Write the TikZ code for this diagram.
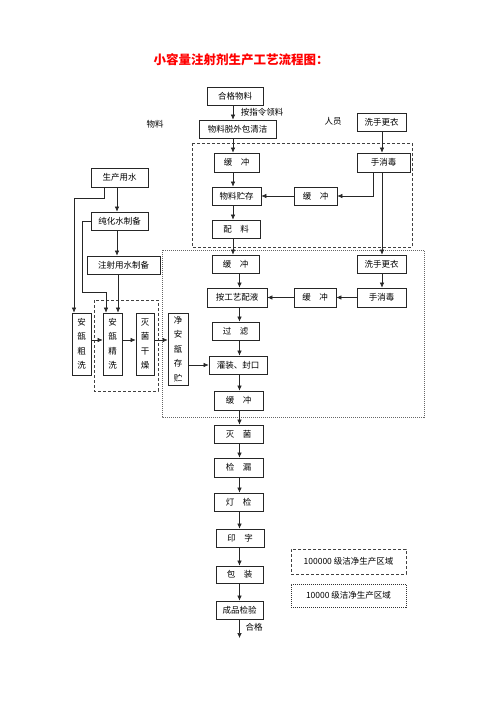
\documentclass[tikz,border=0pt]{standalone}
\usepackage{fontspec}
\setmainfont{Noto Sans CJK SC}
\usetikzlibrary{arrows.meta}
\tikzset{
  box/.style={draw=black!85, line width=0.75pt, inner sep=0pt, font=\fontsize{8.5}{10}\selectfont},
  vbox/.style={box, align=center, font=\fontsize{8.5}{14.5}\selectfont},
  arr/.style={-{Latex[length=5pt,width=4.5pt]}, line width=0.6pt, draw=black!85},
  lbl/.style={inner sep=0pt, font=\fontsize{8.5}{10}\selectfont},
  zoneA/.style={draw=black!75, line width=0.6pt, dash pattern=on 3pt off 2pt},
  zoneB/.style={draw=black!60, line width=0.6pt, dash pattern=on 1pt off 1pt},
}
\newcommand\bx[6]{\node[box,minimum width=#4pt,minimum height=#5pt] (#1) at (#2,#3) {#6};}
\newcommand\gapsp{\hspace{1em}}
\begin{document}
\begin{tikzpicture}[x=1pt,y=-1pt]
\useasboundingbox (0,0) rectangle (496,702);
% zones
\draw[zoneA] (192,143) rectangle (412,247);
\draw[zoneB] (162,250) rectangle (424,417);
\draw[zoneA] (94,300) rectangle (158,391);
% title
\node[text=red, font=\fontsize{12.5}{14}\selectfont\bfseries] (title) at (241,60) {小容量注射剂生产工艺流程图：};
% labels
\node[lbl] (t1) at (262,112) {按指令领料};
\node[lbl] (t2) at (155,124) {物料};
\node[lbl] (t3) at (333,121) {人员};
\node[lbl] (t4) at (254,627) {合格};
% boxes
\bx{hg}{235}{96}{56}{18}{合格物料}
\bx{wb}{237.5}{129}{77}{18}{物料脱外包清洁}
\bx{xs1}{381.5}{122}{49}{18}{洗手更衣}
\bx{hc1}{236.5}{162.5}{45}{19}{缓\gapsp 冲}
\bx{sx1}{383.5}{162.5}{53}{19}{手消毒}
\bx{wc}{236.5}{196}{49}{18}{物料贮存}
\bx{hc2}{315.5}{196}{43}{18}{缓\gapsp 冲}
\bx{pl}{236}{229}{48}{18}{配\gapsp 料}
\bx{scs}{119.5}{177.5}{57}{19}{生产用水}
\bx{chs}{119.5}{221}{57}{18}{纯化水制备}
\bx{zs}{123.5}{265}{73}{18}{注射用水制备}
\bx{hc3}{235.5}{264}{47}{18}{缓\gapsp 冲}
\bx{xs2}{381.5}{264}{49}{18}{洗手更衣}
\bx{py}{237}{297.5}{60}{19}{按工艺配液}
\bx{hc4}{315}{297.5}{42}{19}{缓\gapsp 冲}
\bx{sx2}{381.5}{297.5}{49}{19}{手消毒}
\bx{gl}{235.5}{331}{47}{18}{过\gapsp 滤}
\bx{gz}{238}{365}{58}{18}{灌装、封口}
\bx{hc5}{238.5}{400.5}{49}{19}{缓\gapsp 冲}
\bx{mj}{238.5}{434}{49}{18}{灭\gapsp 菌}
\bx{jl}{238.5}{467.5}{49}{19}{检\gapsp 漏}
\bx{dj}{238.5}{502}{49}{18}{灯\gapsp 检}
\bx{yz}{240}{538}{48}{18}{印\gapsp 字}
\bx{bz}{239.5}{574.5}{47}{17}{包\gapsp 装}
\bx{cp}{239.5}{610}{47}{18}{成品检验}
\node[vbox, minimum width=19pt, minimum height=62pt] (cx) at (81.5,344) {安\\瓿\\粗\\洗};
\node[vbox, minimum width=19pt, minimum height=62pt] (jx) at (112.5,344) {安\\瓿\\精\\洗};
\node[vbox, minimum width=18pt, minimum height=62pt] (gzz) at (145,344) {灭\\菌\\干\\燥};
\node[vbox, minimum width=20pt, minimum height=72pt] (jc) at (178,349) {净\\安\\瓿\\存\\贮};
% legend
\node[box, zoneA, minimum width=115pt, minimum height=25pt] (lg1) at (348.5,561.5) {100000 级洁净生产区域};
\node[box, zoneB, draw=black!80, minimum width=115pt, minimum height=23pt] (lg2) at (348.5,595.5) {10000 级洁净生产区域};
% coordinates
\coordinate (xa) at (233,0);
\coordinate (xb) at (239.5,0);
\coordinate (xr) at (382,0);
\coordinate (xr2) at (373,0);
\coordinate (xw) at (117,0);
\coordinate (w1) at (104,198);
\coordinate (w2) at (74,198);
\coordinate (w3) at (82,221);
\coordinate (w4) at (82,292);
\coordinate (w5) at (106,292);
\coordinate (w6) at (118,0);
\coordinate (yh) at (0,340);
\coordinate (fin) at (239.5,638);
% main chain
\draw[arr] (hg.south -| xa) -- (wb.north -| xa);
\draw[arr] (wb.south -| xa) -- (hc1.north -| xa);
\draw[arr] (hc1.south -| xa) -- (wc.north -| xa);
\draw[arr] (wc.south -| xa) -- (pl.north -| xa);
\draw[arr] (pl.south -| xa) -- (hc3.north -| xa);
\draw[arr] (hc3.south -| xb) -- (py.north -| xb);
\draw[arr] (py.south -| xb) -- (gl.north -| xb);
\draw[arr] (gl.south -| xb) -- (gz.north -| xb);
\draw[arr] (gz.south -| xb) -- (hc5.north -| xb);
\draw[arr] (hc5.south -| xb) -- (mj.north -| xb);
\draw[arr] (mj.south -| xb) -- (jl.north -| xb);
\draw[arr] (jl.south -| xb) -- (dj.north -| xb);
\draw[arr] (dj.south -| xb) -- (yz.north -| xb);
\draw[arr] (yz.south -| xb) -- (bz.north -| xb);
\draw[arr] (bz.south -| xb) -- (cp.north -| xb);
\draw[arr] (cp.south -| xb) -- (fin);
% personnel
\draw[arr] (xs1.south -| xr) -- (sx1.north -| xr);
\draw[arr] (sx1.south -| xr2) |- (hc2.east);
\draw[arr] (hc2.west) -- (wc.east);
\draw[arr] (sx1.south -| xr) -- (xs2.north -| xr);
\draw[arr] (xs2.south -| xr) -- (sx2.north -| xr);
\draw[arr] (sx2.west) -- (hc4.east);
\draw[arr] (hc4.west) -- (py.east);
% water
\draw[arr] (scs.south -| xw) -- (chs.north -| xw);
\draw[arr] (chs.south -| xw) -- (zs.north -| xw);
\draw[arr] (scs.south -| w1) -- (w1) -- (w2) -- (cx.north -| w2);
\draw[arr] (chs.west) -- (w3) -- (w4) -- (w5) -- (jx.north -| w5);
\draw[arr] (zs.south -| w6) -- (jx.north -| w6);
% ampoules
\draw[arr] (cx.east |- yh) -- (jx.west |- yh);
\draw[arr] (jx.east |- yh) -- (gzz.west |- yh);
\draw[arr] (gzz.east |- yh) -- (jc.west |- yh);
\draw[arr] (gz.west -| jc.east) -- (gz.west);
\end{tikzpicture}
\end{document}
